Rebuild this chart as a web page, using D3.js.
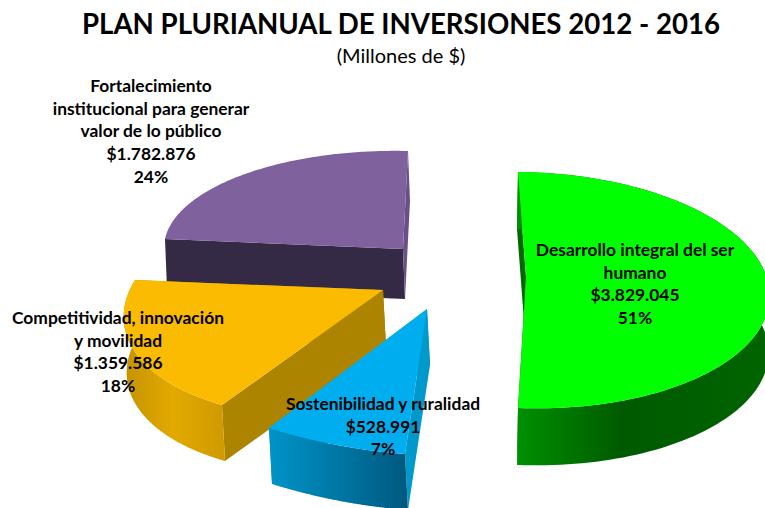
<!DOCTYPE html>
<html>
<head>
<meta charset="utf-8">
<script src="https://cdn.jsdelivr.net/npm/d3@7/dist/d3.min.js"></script>
<style>
html,body{margin:0;padding:0;background:#fff;overflow:hidden}
svg{display:block}
text{font-family:Lato,"Noto Sans",sans-serif;fill:#000}
</style>
</head>
<body>
<svg id="chart" width="765" height="508"></svg>
<script>
// ---- data ----
const titleText = "PLAN PLURIANUAL DE INVERSIONES 2012 - 2016";
const subtitleText = "(Millones de $)";
const categories = [
  "Desarrollo integral del ser humano",
  "Sostenibilidad y ruralidad",
  "Competitividad, innovación y movilidad",
  "Fortalecimiento institucional para generar valor de lo público"
];
const categoryLines = [
  ["Desarrollo integral del ser", "humano"],
  ["Sostenibilidad y ruralidad"],
  ["Competitividad, innovación", "y movilidad"],
  ["Fortalecimiento", "institucional para generar", "valor de lo público"]
];
const values = [3829045, 528991, 1359586, 1782876];

// ---- styles ----
const topColors = ["#00ff00", "#00aeef", "#fbbb00", "#7f619e"];
const wallStops = [
  [["0", "#009000"], ["0.42", "#005a00"], ["1", "#006400"]],
  [["0", "#0094c8"], ["1", "#005a80"]],
  [["0", "#c49300"], ["0.5", "#e2a900"], ["1", "#d09b00"]],
  [["0", "#352a45"], ["1", "#352a45"]]
];
const startCutColors = ["#006a00", "#0099cc", "#ac8400", "#352a45"];
const endCutColors = ["#006a00", "#0099cc", "#ac8400", "#6a5088"];
const rimFacesBack = [false, false, false, true];

// ---- camera fit for each exploded slice: where the apex sits, three rim
//      calibration points (slice start, middle, end) and the extrusion ----
const apexes = [[526, 277], [427, 309], [383, 290], [403, 249]];
const rimFits = [
  [[518, 172], [768, 282], [518, 408]],
  [[405, 454], [337, 445], [269, 428]],
  [[222, 405], [135, 352], [135, 280]],
  [[165, 239], [245, 174], [408, 151]]
];
const depths = [[-1, 57], [3, 56], [3, 56], [2, 50]];
const drawOrder = [3, 2, 1, 0];
const labelAnchors = [[635, 256], [383, 410], [118, 324], [151, 92]];
const labelLead = 22.7;

// ---- helpers ----
function solve(A, b) {
  const n = b.length, M = A.map((r, i) => [...r, b[i]]);
  for (let i = 0; i < n; i++) {
    let p = i;
    for (let r = i + 1; r < n; r++) if (Math.abs(M[r][i]) > Math.abs(M[p][i])) p = r;
    [M[i], M[p]] = [M[p], M[i]];
    for (let r = 0; r < n; r++) {
      if (r === i) continue;
      const f = M[r][i] / M[i][i];
      for (let c = i; c <= n; c++) M[r][c] -= f * M[i][c];
    }
  }
  return M.map((r, i) => r[n] / r[i]);
}
function makeProjection(apex, fit, angles) {
  const A = [], b = [];
  fit.forEach((p, i) => {
    const s = Math.sin(angles[i]), c = Math.cos(angles[i]);
    const px = p[0] - apex[0], py = p[1] - apex[1];
    A.push([s, c, 0, 0, px * c, px * s]); b.push(px);
    A.push([0, 0, s, c, py * c, py * s]); b.push(py);
  });
  const [ux, vx, uy, vy, k, m] = solve(A, b);
  return t => {
    const s = Math.sin(t), c = Math.cos(t), w = 1 - k * c - m * s;
    return [apex[0] + (ux * s + vx * c) / w, apex[1] + (uy * s + vy * c) / w];
  };
}

// ---- chart ----
const svg = d3.select("#chart");
const defs = svg.append("defs");
const total = d3.sum(values);
const arcs = d3.pie().sort(null).value(d => d)(values);
const line = d3.line().curve(d3.curveLinear);
const moneyFmt = d3.formatLocale({decimal: ",", thousands: ".", grouping: [3], currency: ["$", ""]}).format("$,");
const pctFmt = d3.format(".0%");

const layer = svg.append("g");
drawOrder.forEach(i => {
  const a = arcs[i], apex = apexes[i], d = depths[i];
  const angle = d3.scaleLinear().domain([0, 1]).range([a.startAngle, a.endAngle]);
  const project = makeProjection(apex, rimFits[i], [angle(0), angle(0.5), angle(1)]);
  const rim = d3.range(0, 1.0001, 1 / 120).map(t => project(angle(t)));
  const drop = p => [p[0] + d[0], p[1] + d[1]];
  const g = layer.append("g").attr("class", "slice").datum(a);

  const xs = d3.extent(rim, p => p[0]);
  const gid = "wall" + i;
  const grad = defs.append("linearGradient").attr("id", gid)
    .attr("gradientUnits", "userSpaceOnUse")
    .attr("x1", xs[0]).attr("x2", Math.min(xs[1], 765)).attr("y1", 0).attr("y2", 0);
  wallStops[i].forEach(s => grad.append("stop").attr("offset", s[0]).attr("stop-color", s[1]));

  const first = rim[0], last = rim[rim.length - 1];
  g.append("path").attr("fill", startCutColors[i])
    .attr("d", line([apex, first, drop(first), drop(apex)]) + "Z");
  g.append("path").attr("fill", endCutColors[i])
    .attr("d", line([apex, last, drop(last), drop(apex)]) + "Z");
  if (!rimFacesBack[i]) {
    g.append("path").attr("fill", `url(#${gid})`)
      .attr("d", line(rim.concat(rim.map(drop).reverse())) + "Z");
  }
  g.append("path").attr("fill", topColors[i])
    .attr("d", line([apex].concat(rim)) + "Z");
});

// ---- text ----
svg.append("text").attr("x", 401).attr("y", 34).attr("text-anchor", "middle")
  .attr("font-size", 29).attr("font-weight", 700).attr("textLength", 638)
  .attr("lengthAdjust", "spacingAndGlyphs").text(titleText);
svg.append("text").attr("x", 401).attr("y", 63).attr("text-anchor", "middle")
  .attr("font-size", 20).text(subtitleText);

values.forEach((v, i) => {
  const lines = categoryLines[i].concat([moneyFmt(v), pctFmt(v / total)]);
  const t = svg.append("text").attr("class", "label").attr("text-anchor", "middle")
    .attr("font-size", 17.4).attr("font-weight", 700);
  lines.forEach((s, j) => {
    t.append("tspan").attr("x", labelAnchors[i][0])
      .attr("y", labelAnchors[i][1] + j * labelLead).text(s);
  });
});
</script>
</body>
</html>
